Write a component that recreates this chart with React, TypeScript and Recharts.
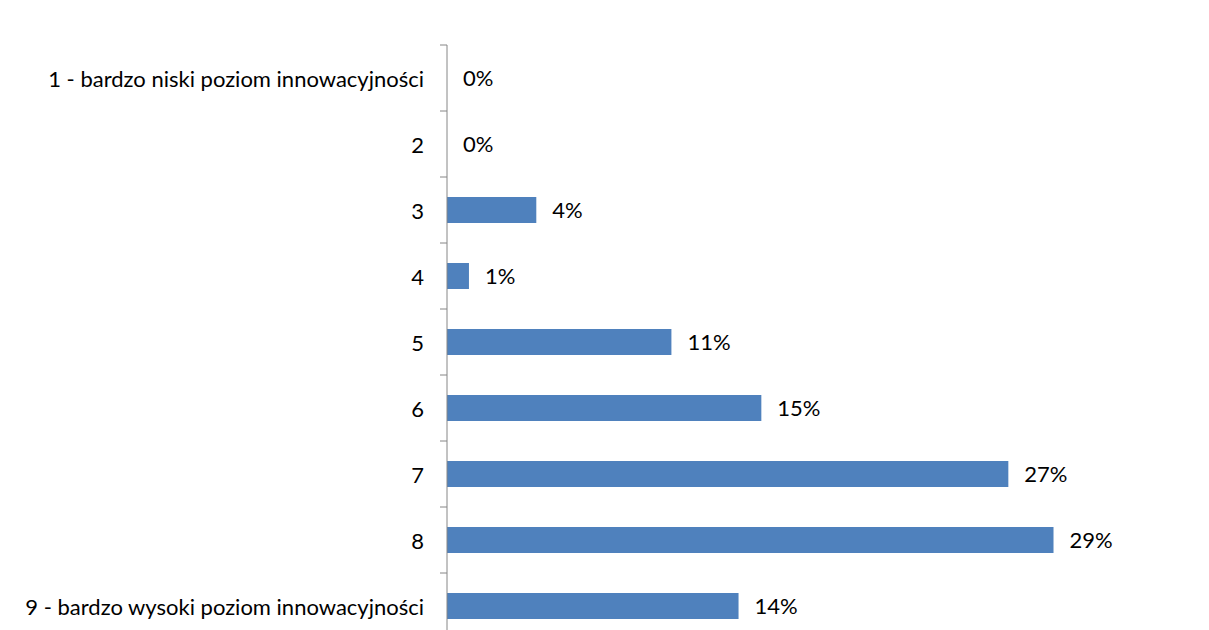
import { BarChart, Bar, XAxis, YAxis, LabelList } from "recharts"

const categories = [
  "1 - bardzo niski poziom innowacyjności",
  "2",
  "3",
  "4",
  "5",
  "6",
  "7",
  "8",
  "9 - bardzo wysoki poziom innowacyjności",
]
const shares = [0, 0, 4.27, 1.05, 10.73, 15.03, 26.84, 29.0, 13.94]

const data = categories.map((name, i) => ({ name, value: shares[i] }))

const AXIS_COLOR = "#868686"
const TICK_SIZE = 7
const TICK_MARGIN = 16
const FONT = "Lato, 'Open Sans', sans-serif"
const FONT_SIZE = 22

function CategoryTick(props: any) {
  const { x, y, payload, index } = props
  const axisX = x + TICK_SIZE + TICK_MARGIN
  const half = payload?.offset ?? 33
  const last = index === categories.length - 1
  return (
    <g>
      <line x1={axisX - TICK_SIZE} x2={axisX} y1={y - half} y2={y - half} stroke={AXIS_COLOR} />
      {last && <line x1={axisX - TICK_SIZE} x2={axisX} y1={y + half} y2={y + half} stroke={AXIS_COLOR} />}
      <text x={x} y={y} textAnchor="end" dominantBaseline="central" fill="#000" fontSize={FONT_SIZE} fontFamily={FONT}>
        {payload.value}
      </text>
    </g>
  )
}

export default function App() {
  return (
    <div style={{ position: "fixed", left: 0, top: 0, width: 1209, height: 630, overflow: "hidden", background: "#fff" }}>
      <BarChart
        width={1209}
        height={660}
        data={data}
        layout="vertical"
        margin={{ top: 45, right: 30, bottom: 21, left: 0 }}
      >
        <XAxis type="number" domain={[0, 35]} hide />
        <YAxis
          type="category"
          dataKey="name"
          width={447}
          tickSize={TICK_SIZE}
          tickMargin={TICK_MARGIN}
          tickLine={false}
          axisLine={{ stroke: AXIS_COLOR }}
          tick={<CategoryTick />}
          interval={0}
        />
        {/* tiny minPointSize so the 0% rows still get a label */}
        <Bar dataKey="value" fill="#4F81BD" barSize={26} minPointSize={0.01} isAnimationActive={false}>
          <LabelList
            dataKey="value"
            position="right"
            offset={16}
            formatter={(v: any) => `${Math.round(Number(v))}%`}
            style={{ fontSize: FONT_SIZE, fontFamily: FONT, fill: "#000" }}
          />
        </Bar>
      </BarChart>
    </div>
  )
}
